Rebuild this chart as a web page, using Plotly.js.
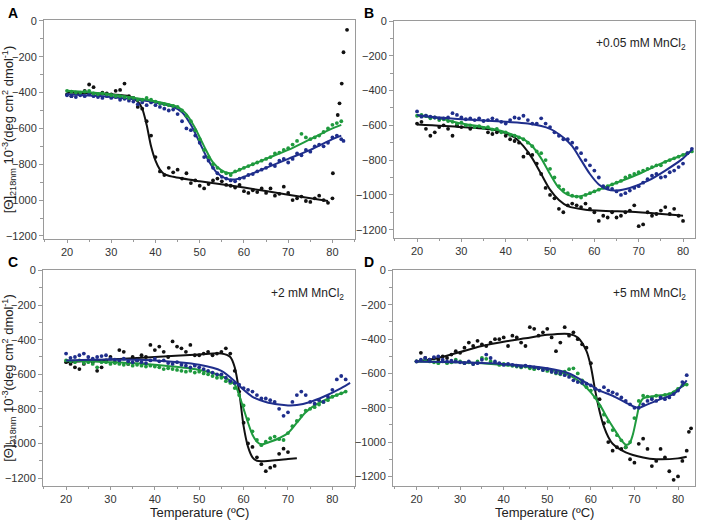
<!DOCTYPE html>
<html>
<head>
<meta charset="utf-8">
<script src="https://cdn.plot.ly/plotly-3.0.1.min.js"></script>
<style>html,body{margin:0;padding:0;background:#fff}#chart{width:708px;height:521px}</style>
</head>
<body>
<div id="chart"></div>
<script>
// ---------- Panel A ----------
const aBlackX = [20,21,22,23,24,25,26,27,28,29,30,31,32,33,34,35,36,37,38,39,40,41,42,43,44,45,46,47,48,49,50,51,52,53,54,55,56,57,58,59,60,61,62,63,64,65,66,67,68,69,70,71,72,73,74,75,76,77,78,79,80,80.1,81.2,81.6,82.1,82.5,83.3];
const aBlackY = [-410,-420,-400,-410,-390,-355,-370,-410,-400,-405,-410,-390,-385,-350,-420,-430,-480,-490,-560,-640,-760,-840,-860,-820,-845,-830,-880,-850,-905,-890,-920,-935,-910,-890,-880,-895,-915,-920,-930,-915,-950,-960,-945,-955,-935,-960,-935,-975,-965,-925,-960,-1000,-990,-980,-1005,-1010,-990,-975,-1000,-1015,-990,-850,-525,-460,-350,-175,-50];
const aBlueX = [20,21,22,23,24,25,26,27,28,29,30,31,32,33,34,35,36,37,38,39,40,41,42,43,44,45,46,47,48,49,50,51,52,53,54,55,56,57,58,59,60,61,62,63,64,65,66,67,68,69,70,71,72,73,74,75,76,77,78,79,80,81,82,82.5];
const aBlueY = [-415,-420,-425,-415,-420,-410,-420,-425,-430,-420,-430,-425,-440,-435,-445,-450,-465,-455,-470,-455,-470,-480,-490,-500,-495,-520,-560,-600,-610,-640,-680,-760,-780,-820,-850,-870,-880,-890,-895,-880,-875,-860,-855,-840,-830,-820,-800,-810,-780,-770,-790,-770,-740,-750,-720,-730,-700,-690,-700,-680,-650,-640,-660,-670];
const aGreenX = [20,21,22,23,24,25,26,27,28,29,30,31,32,33,34,35,36,37,38,39,40,41,42,43,44,45,46,47,48,49,50,51,52,53,54,55,56,57,58,59,60,61,62,63,64,65,66,67,68,69,70,71,72,73,74,75,76,77,78,79,80,81,82];
const aGreenY = [-390,-395,-400,-400,-395,-390,-405,-410,-405,-410,-415,-420,-420,-425,-430,-430,-440,-440,-430,-440,-450,-460,-465,-470,-475,-480,-500,-530,-560,-610,-660,-720,-760,-800,-820,-840,-850,-860,-840,-830,-820,-810,-800,-790,-780,-770,-760,-740,-735,-720,-710,-690,-670,-630,-650,-660,-650,-640,-620,-600,-580,-570,-560];
const aBlackFitX = [20,30,34,36,37,38,39,40,41,42,44,50,60,70,79];
const aBlackFitY = [-400,-410,-420,-450,-490,-580,-700,-780,-830,-855,-870,-895,-930,-970,-1005];
const aBlueFitX = [20,30,40,44,46,48,50,52,54,56,58,60,65,70,75,80,82];
const aBlueFitY = [-410,-425,-455,-480,-510,-580,-680,-780,-850,-880,-885,-870,-820,-770,-720,-660,-640];
const aGreenFitX = [20,30,38,43,45,47,49,51,53,55,57,60,65,70,75,80,82];
const aGreenFitY = [-390,-410,-440,-465,-480,-520,-600,-700,-790,-835,-850,-820,-770,-720,-660,-600,-580];

// ---------- Panel B ----------
const bBlackX = [20,21,22,23,24,25,26,27,28,29,30,32,34,36,37,38,40,41,42,43,44,45,46,47,48,49,50,51,52,53,54,55,56,57,58,59,60,61,62,63,64,65,66,67,68,69,70,71,72,73,74,75,76,77,78,79,80];
const bBlackY = [-590,-580,-620,-660,-640,-610,-600,-620,-660,-600,-610,-620,-610,-640,-650,-640,-660,-680,-690,-700,-780,-760,-770,-820,-880,-960,-1000,-1020,-1080,-1100,-1060,-1050,-1060,-1070,-1050,-1080,-1100,-1150,-1120,-1130,-1100,-1130,-1120,-1100,-1090,-1060,-1180,-1170,-1100,-1120,-1110,-1090,-1070,-1110,-1080,-1120,-1150];
const bBlueX = [20,21,22,23,24,25,26,27,28,29,30,31,32,33,34,35,36,37,38,39,40,41,42,43,44,45,46,47,48,49,50,51,52,53,54,55,56,57,58,59,60,61,62,63,64,65,66,67,68,69,70,71,72,73,74,75,76,77,78,79,80,81,82];
const bBlueY = [-520,-550,-545,-550,-555,-560,-560,-555,-530,-540,-555,-565,-560,-570,-560,-575,-570,-560,-570,-580,-590,-570,-555,-560,-545,-570,-590,-590,-560,-590,-610,-640,-660,-680,-680,-700,-730,-760,-800,-830,-860,-900,-950,-960,-965,-980,-1000,-990,-975,-960,-950,-930,-910,-890,-880,-900,-895,-870,-860,-840,-820,-760,-735];
const bGreenX = [20,21,22,23,24,25,26,27,28,29,30,31,32,33,34,35,36,37,38,39,40,41,42,43,44,45,46,47,48,49,50,51,52,53,54,55,56,57,58,59,60,61,62,63,64,65,66,67,68,69,70,71,72,73,74,75,76,77,78,79,80,81,82];
const bGreenY = [-545,-540,-545,-560,-555,-570,-565,-575,-580,-590,-585,-600,-600,-610,-605,-615,-610,-625,-620,-640,-640,-655,-660,-670,-680,-700,-720,-750,-760,-800,-850,-900,-950,-970,-990,-1005,-1010,-1015,-1000,-990,-980,-970,-960,-950,-940,-930,-920,-900,-890,-880,-870,-860,-850,-840,-830,-830,-810,-800,-790,-780,-770,-760,-750];
const bBlackFitX = [20,30,38,42,44,46,48,50,52,54,58,70,80];
const bBlackFitY = [-595,-610,-630,-670,-720,-790,-880,-970,-1030,-1065,-1085,-1100,-1120];
const bBlueFitX = [20,25,30,40,45,50,53,55,57,59,61,63,65,68,72,76,80,82];
const bBlueFitY = [-540,-555,-565,-580,-590,-620,-670,-720,-800,-880,-940,-970,-975,-960,-920,-860,-790,-740];
const bGreenFitX = [20,25,30,35,40,44,46,48,50,52,54,56,58,60,65,70,75,80,82];
const bGreenFitY = [-545,-560,-590,-610,-640,-680,-720,-790,-880,-960,-1000,-1010,-1000,-980,-930,-880,-820,-770,-750];

// ---------- Panel C ----------
const cBlackX = [20,21,22,23,24,25,26,27,28,29,30,31,32,33,34,35,36,37,38,39,40,41,42,43,44,45,46,47,48,49,50,51,52,53,54,55,56,57,58,59,60,61,62,63,64,65,66,67,68,69,70];
const cBlackY = [-530,-540,-560,-570,-540,-520,-530,-580,-560,-520,-500,-530,-460,-470,-540,-500,-520,-490,-500,-430,-460,-440,-470,-500,-410,-440,-450,-470,-430,-490,-490,-480,-470,-490,-480,-470,-450,-480,-580,-700,-880,-1000,-1020,-1080,-1120,-1160,-1140,-1130,-1060,-1030,-1050];
const cBlueX = [20,21,22,23,24,25,26,27,28,29,30,31,32,33,34,35,36,37,38,39,40,41,42,43,44,45,46,47,48,49,50,51,52,53,54,55,56,57,58,59,60,61,62,63,64,65,66,67,68,69,70,71,72,73,74,75,76,77,78,79,80,81,82,83];
const cBlueY = [-480,-505,-500,-490,-480,-500,-510,-500,-495,-490,-510,-515,-520,-510,-525,-530,-520,-530,-535,-520,-510,-525,-520,-535,-540,-530,-545,-550,-560,-550,-560,-570,-580,-590,-600,-600,-620,-640,-650,-660,-680,-690,-700,-720,-740,-740,-750,-760,-800,-840,-820,-760,-720,-700,-720,-760,-770,-750,-760,-730,-690,-630,-610,-630];
const cGreenX = [20,21,22,23,24,25,26,27,28,29,30,31,32,33,34,35,36,37,38,39,40,41,42,43,44,45,46,47,48,49,50,51,52,53,54,55,56,57,58,59,60,61,62,63,64,65,66,67,68,69,70,71,72,73,74,75,76,77,78,79,80,81,82,83];
const cGreenY = [-520,-525,-530,-520,-535,-530,-540,-560,-530,-530,-540,-535,-540,-545,-540,-550,-545,-550,-555,-550,-555,-560,-570,-565,-570,-575,-580,-585,-580,-590,-585,-595,-600,-610,-620,-620,-640,-650,-680,-720,-780,-860,-930,-980,-1010,-990,-970,-960,-975,-980,-940,-900,-870,-840,-810,-800,-790,-775,-760,-750,-730,-720,-710,-700];
const cBlackFitX = [20,30,40,50,55,57,58,59,60,61,62,63,66,70,72];
const cBlackFitY = [-530,-515,-500,-485,-480,-500,-560,-700,-900,-1020,-1080,-1100,-1100,-1090,-1085];
const cBlueFitX = [20,30,40,50,55,58,60,62,65,68,70,72,75,78,82,84];
const cBlueFitY = [-520,-515,-520,-545,-580,-640,-690,-730,-760,-775,-780,-778,-760,-730,-680,-650];
const cGreenFitX = [20,30,40,50,55,58,59,60,61,62,63,64,66,68,70,72,74,76,80,83];
const cGreenFitY = [-520,-530,-545,-575,-610,-660,-720,-800,-880,-950,-990,-1005,-990,-970,-940,-880,-820,-780,-730,-700];

// ---------- Panel D ----------
const dBlackX = [20,21,22,23,24,25,26,27,28,29,30,31,32,33,34,35,36,37,38,39,40,41,42,43,44,45,46,47,48,49,50,51,52,53,54,55,56,57,58,59,60,61,62,63,64,65,66,67,68,69,70,71,72,73,74,75,76,77,78,79,80,81,82,82.5,83];
const dBlackY = [-530,-480,-510,-520,-510,-520,-500,-510,-490,-470,-480,-450,-420,-440,-410,-430,-440,-420,-400,-400,-390,-440,-380,-390,-420,-440,-330,-340,-380,-360,-340,-390,-470,-420,-330,-380,-360,-400,-430,-450,-540,-690,-750,-890,-1000,-1050,-1030,-1040,-1030,-1100,-1120,-1010,-980,-1040,-1140,-1110,-1040,-1090,-1170,-1220,-1200,-1110,-1050,-940,-920];
const dBlueX = [20,21,22,23,24,25,26,27,28,29,30,31,32,33,34,35,36,37,38,39,40,41,42,43,44,45,46,47,48,49,50,51,52,53,54,55,56,57,58,59,60,61,62,63,64,65,66,67,68,69,70,71,72,73,74,75,76,77,78,79,80,81,82];
const dBlueY = [-530,-520,-510,-520,-505,-500,-520,-530,-525,-530,-535,-540,-530,-545,-540,-520,-490,-510,-530,-540,-550,-545,-550,-555,-560,-555,-560,-565,-570,-580,-575,-590,-595,-600,-610,-620,-640,-650,-655,-660,-670,-690,-700,-680,-700,-710,-720,-740,-760,-780,-800,-800,-780,-760,-750,-760,-740,-750,-740,-720,-700,-650,-610];
const dGreenX = [20,21,22,23,24,25,26,27,28,29,30,31,32,33,34,35,36,37,38,39,40,41,42,43,44,45,46,47,48,49,50,51,52,53,54,55,56,57,58,59,60,61,62,63,64,65,66,67,68,69,70,71,72,73,74,75,76,77,78,79,80,81,82];
const dGreenY = [-530,-525,-520,-530,-535,-540,-530,-540,-535,-520,-530,-540,-535,-545,-530,-510,-515,-530,-540,-550,-545,-550,-555,-560,-565,-560,-570,-575,-570,-580,-585,-590,-600,-605,-590,-575,-570,-600,-640,-680,-700,-740,-790,-840,-880,-930,-960,-990,-1030,-1000,-860,-760,-730,-735,-740,-730,-735,-725,-720,-710,-690,-670,-665];
const dBlackFitX = [20,25,30,35,40,45,50,55,57,59,60,61,62,63,64,65,68,72,75,80,82];
const dBlackFitY = [-530,-510,-475,-440,-415,-395,-375,-370,-390,-470,-560,-700,-820,-910,-970,-1010,-1060,-1090,-1100,-1095,-1085];
const dBlueFitX = [20,30,40,50,55,58,60,62,65,68,70,71,73,76,79,82];
const dBlueFitY = [-530,-535,-545,-570,-600,-640,-670,-700,-730,-770,-795,-800,-780,-750,-720,-640];
const dGreenFitX = [20,30,40,50,55,58,60,62,64,66,67,68,68.8,69.6,70.4,71.2,72,75,78,80,82];
const dGreenFitY = [-530,-535,-550,-575,-610,-660,-710,-780,-870,-950,-990,-1015,-1010,-960,-870,-780,-745,-730,-720,-690,-660];

// ---------- Text ----------
const panelLetters = ['A','B','C','D'];
const saltLabels = ['+0.05 mM MnCl<sub>2</sub>','+2 mM MnCl<sub>2</sub>','+5 mM MnCl<sub>2</sub>'];
const yTitle = '[Θ]<sub>218nm</sub> 10<sup>-3</sup>(deg cm<sup>2</sup> dmol<sup>-1</sup>)';
const xTitle = 'Temperature (ºC)';
const xTicks = [20,30,40,50,60,70,80];
const yTicks = [0,-200,-400,-600,-800,-1000,-1200];

const BLACK = '#111111', BLUE = '#1f2e8c', GREEN = '#1f9a3e';
const traces = [];
function add(ax, px, py, fx, fy, color) {
  const xa = 'x' + (ax === 1 ? '' : ax), ya = 'y' + (ax === 1 ? '' : ax);
  traces.push({x: px, y: py, xaxis: xa, yaxis: ya, type: 'scatter', mode: 'markers',
    marker: {color: color, size: 3.8}, showlegend: false, hoverinfo: 'skip'});
  traces.push({x: fx, y: fy, xaxis: xa, yaxis: ya, type: 'scatter', mode: 'lines',
    line: {color: color, width: 2, shape: 'spline', smoothing: 0.8}, showlegend: false, hoverinfo: 'skip'});
}
add(1, aBlackX, aBlackY, aBlackFitX, aBlackFitY, BLACK);
add(1, aBlueX, aBlueY, aBlueFitX, aBlueFitY, BLUE);
add(1, aGreenX, aGreenY, aGreenFitX, aGreenFitY, GREEN);
add(2, bBlackX, bBlackY, bBlackFitX, bBlackFitY, BLACK);
add(2, bGreenX, bGreenY, bGreenFitX, bGreenFitY, GREEN);
add(2, bBlueX, bBlueY, bBlueFitX, bBlueFitY, BLUE);
add(3, cBlackX, cBlackY, cBlackFitX, cBlackFitY, BLACK);
add(3, cGreenX, cGreenY, cGreenFitX, cGreenFitY, GREEN);
add(3, cBlueX, cBlueY, cBlueFitX, cBlueFitY, BLUE);
add(4, dBlackX, dBlackY, dBlackFitX, dBlackFitY, BLACK);
add(4, dGreenX, dGreenY, dGreenFitX, dGreenFitY, GREEN);
add(4, dBlueX, dBlueY, dBlueFitX, dBlueFitY, BLUE);

const FONT = 'Liberation Sans, Arial, sans-serif';
function xax(domain, range, anchor) {
  return {domain: domain, range: range, anchor: anchor, tickvals: xTicks,
    showline: true, mirror: true, linecolor: '#9a9a9a', linewidth: 1,
    ticks: 'outside', ticklen: 3, tickcolor: '#9a9a9a', showgrid: false, zeroline: false,
    minor: {ticks: 'outside', ticklen: 2, tickcolor: '#9a9a9a', tickvals: [15,25,35,45,55,65,75,85]},
    tickfont: {family: FONT, size: 11, color: '#333'}};
}
function yax(domain, range, anchor, title) {
  const o = {domain: domain, range: range, anchor: anchor, tickvals: yTicks,
    showline: true, mirror: true, linecolor: '#9a9a9a', linewidth: 1,
    ticks: 'outside', ticklen: 4, tickcolor: '#9a9a9a', showgrid: false, zeroline: false,
    minor: {ticks: 'outside', ticklen: 3, tickcolor: '#9a9a9a', tickvals: [-100,-300,-500,-700,-900,-1100]},
    tickfont: {family: FONT, size: 11, color: '#333'}};
  if (title) o.title = {text: title, font: {family: FONT, size: 13, color: '#222'}, standoff: 6};
  return o;
}

const ann = [];
const letterPos = [[6,13],[362,13],[6,262],[362,262]];
panelLetters.forEach((t,i) => ann.push({text: '<b>'+t+'</b>', xref: 'paper', yref: 'paper',
  x: letterPos[i][0]/708, y: 1 - letterPos[i][1]/521, xanchor: 'left', yanchor: 'middle',
  showarrow: false, font: {family: FONT, size: 14, color: '#000'}}));
const saltPos = [[688,44],[346,294],[688,294]];
saltLabels.forEach((t,i) => ann.push({text: t, xref: 'paper', yref: 'paper',
  x: saltPos[i][0]/708, y: 1 - saltPos[i][1]/521, xanchor: 'right', yanchor: 'middle',
  showarrow: false, font: {family: FONT, size: 12, color: '#222'}}));
// x-axis titles of the bottom row, centred under each plot
[199, 544].forEach(px => ann.push({text: xTitle, xref: 'paper', yref: 'paper',
  x: px/708, y: 0, xanchor: 'center', yanchor: 'bottom', borderpad: 0,
  showarrow: false, font: {family: FONT, size: 13, color: '#222'}}));

const layout = {
  width: 708, height: 521, margin: {l: 0, r: 0, t: 0, b: 0},
  paper_bgcolor: '#fff', plot_bgcolor: '#fff', showlegend: false,
  font: {family: FONT},
  xaxis:  xax([44/708, 355/708], [14.8, 85.1], 'y'),
  yaxis:  yax([1-239/521, 1-20/521], [-1217, 5], 'x', yTitle),
  xaxis2: xax([394/708, 695/708], [14.8, 82.7], 'y2'),
  yaxis2: yax([1-238/521, 1-21/521], [-1248, 0], 'x2'),
  xaxis3: xax([43/708, 355/708], [14.8, 85.1], 'y3'),
  yaxis3: yax([1-486/521, 1-270/521], [-1246, 3], 'x3', yTitle),
  xaxis4: xax([393/708, 695/708], [14.6, 83.9], 'y4'),
  yaxis4: yax([1-486/521, 1-270/521], [-1256, 3], 'x4'),
  annotations: ann
};
Plotly.newPlot('chart', traces, layout, {staticPlot: true, displayModeBar: false});
</script>
</body>
</html>
